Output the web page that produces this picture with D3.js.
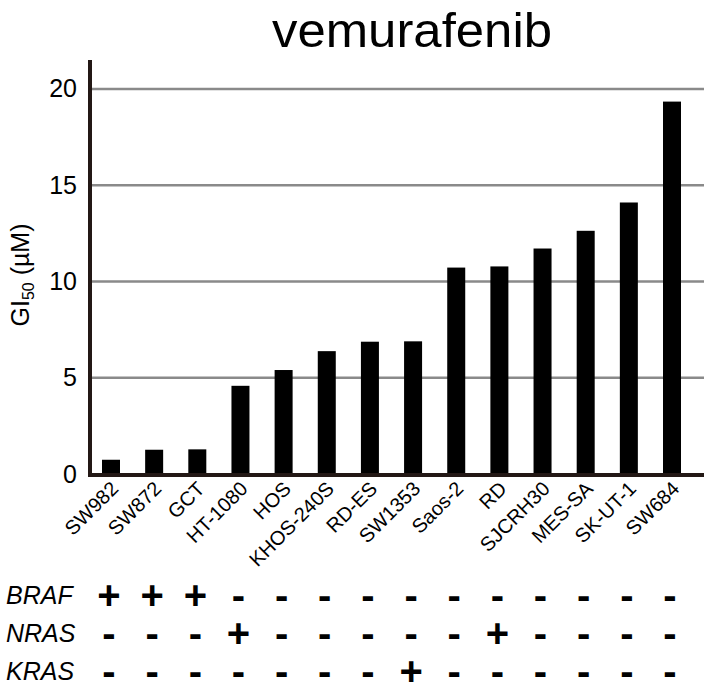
<!DOCTYPE html>
<html>
<head>
<meta charset="utf-8">
<script src="https://cdn.jsdelivr.net/npm/d3@7"></script>
<style>
  html, body { margin: 0; padding: 0; background: #fff; }
  text { font-family: "Liberation Sans", Arial, Helvetica, sans-serif; }
</style>
</head>
<body>
<svg id="chart" width="704" height="685"></svg>
<script>
// ---- data ----
const cellLines = ["SW982","SW872","GCT","HT-1080","HOS","KHOS-240S","RD-ES","SW1353","Saos-2","RD","SJCRH30","MES-SA","SK-UT-1","SW684"];
const gi50 = [0.74, 1.26, 1.28, 4.58, 5.40, 6.38, 6.87, 6.89, 10.72, 10.78, 11.71, 12.63, 14.10, 19.34];
const yTicks = [0, 5, 10, 15, 20];
const mutationGenes = ["BRAF", "NRAS", "KRAS"];
const braf = ["+","+","+","-","-","-","-","-","-","-","-","-","-","-"];
const nras = ["-","-","-","+","-","-","-","-","-","+","-","-","-","-"];
const kras = ["-","-","-","-","-","-","-","+","-","-","-","-","-","-"];
const mutationRows = [braf, nras, kras];
const title = "vemurafenib";

// ---- layout ----
const svg = d3.select("#chart");
const axisColor = "#231815";
const x = d3.scalePoint().domain(cellLines).range([111, 672]);
const y = d3.scaleLinear().domain([0, 21.5]).range([474, 60]);
const barW = 18;

// title
svg.append("text")
  .attr("x", 412).attr("y", 47)
  .attr("text-anchor", "middle")
  .attr("font-size", 48)
  .attr("textLength", 280)
  .attr("lengthAdjust", "spacingAndGlyphs")
  .attr("fill", "#000")
  .text(title);

// gridlines
svg.append("g").selectAll("line")
  .data(yTicks.filter(d => d > 0))
  .join("line")
  .attr("x1", 90).attr("x2", 704)
  .attr("y1", d => y(d)).attr("y2", d => y(d))
  .attr("stroke", "#8a8a8a").attr("stroke-width", 2.5);

// bars
svg.append("g").selectAll("rect")
  .data(gi50)
  .join("rect")
  .attr("x", (d, i) => x(cellLines[i]) - barW / 2)
  .attr("width", barW)
  .attr("y", d => y(d))
  .attr("height", d => y(0) - y(d))
  .attr("fill", "#000");

// y axis
const yAxis = d3.axisLeft(y).tickValues(yTicks).tickSize(0).tickPadding(13);
const gy = svg.append("g").attr("transform", "translate(90,0)").call(yAxis);
gy.select(".domain").remove();
gy.selectAll("text").attr("font-size", 25).attr("fill", "#000")
  .attr("font-family", "'Liberation Sans', Arial, sans-serif");
svg.append("line").attr("x1", 90).attr("x2", 90).attr("y1", 60).attr("y2", 477)
  .attr("stroke", axisColor).attr("stroke-width", 4);
svg.append("line").attr("x1", 88).attr("x2", 704).attr("y1", 475).attr("y2", 475)
  .attr("stroke", axisColor).attr("stroke-width", 4);

// y label
const yl = svg.append("text")
  .attr("transform", "translate(29,275) rotate(-90)")
  .attr("text-anchor", "middle")
  .attr("font-size", 25)
  .attr("fill", "#000");
yl.append("tspan").text("GI");
yl.append("tspan").attr("font-size", 16).attr("dy", 5).text("50");
yl.append("tspan").attr("dy", -5).text(" (µM)");

// x labels
const xAxis = d3.axisBottom(x).tickSize(0).tickPadding(0);
const gx = svg.append("g").attr("transform", "translate(0,475)").call(xAxis);
gx.select(".domain").remove();
gx.selectAll("text")
  .attr("font-size", 20)
  .attr("fill", "#000")
  .attr("font-family", "'Liberation Sans', Arial, sans-serif")
  .attr("text-anchor", "end")
  .attr("dy", null)
  .attr("y", null)
  .attr("transform", "translate(8,15) rotate(-45)");

// mutation table
const rowY = d3.scalePoint().domain(mutationGenes).range([604, 680]);
svg.append("g").selectAll("text")
  .data(mutationGenes)
  .join("text")
  .attr("x", 6).attr("y", d => rowY(d))
  .attr("font-size", 25).attr("font-style", "italic")
  .attr("fill", "#000")
  .text(d => d);

mutationRows.forEach((row, r) => {
  svg.append("g").selectAll("text")
    .data(row)
    .join("text")
    .attr("x", (d, i) => x(cellLines[i]) - 2)
    .attr("y", d => rowY(mutationGenes[r]) + 5)
    .attr("text-anchor", "middle")
    .attr("font-size", 40)
    .attr("font-weight", "bold")
    .attr("fill", "#000")
    .text(d => d);
});
</script>
</body>
</html>
